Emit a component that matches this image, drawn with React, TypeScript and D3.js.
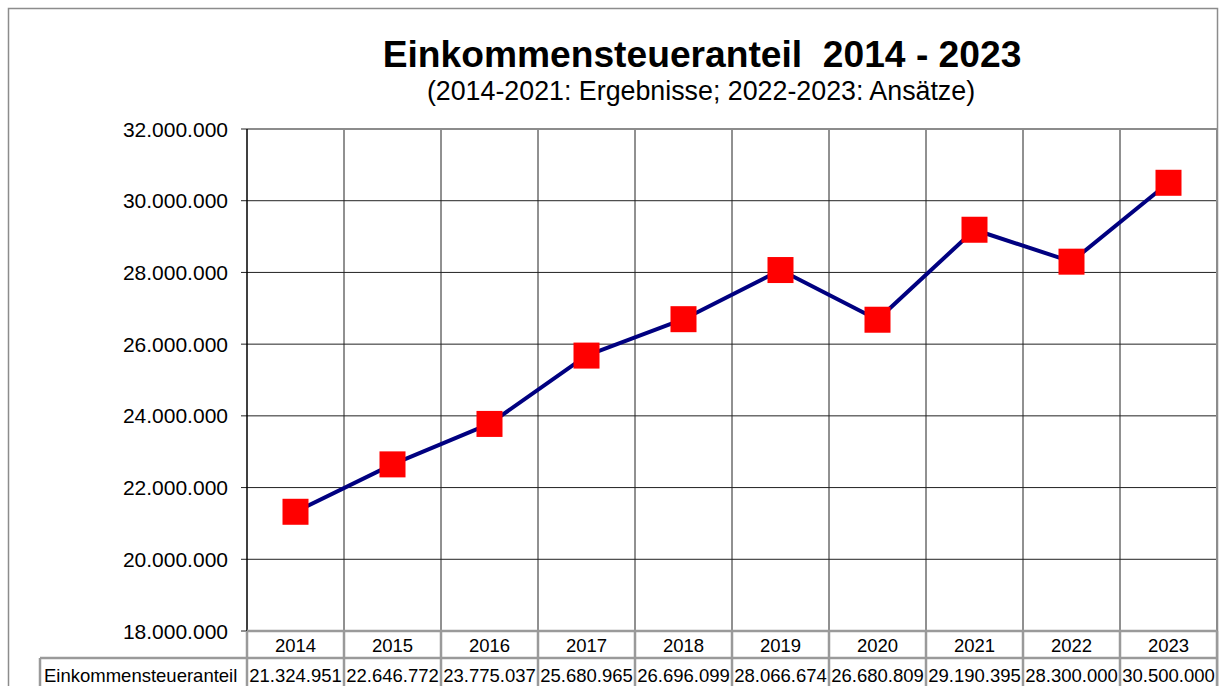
import React from 'react'
import * as d3 from 'd3'

const years = ['2014', '2015', '2016', '2017', '2018', '2019', '2020', '2021', '2022', '2023']
const werte = [21324951, 22646772, 23775037, 25680965, 26696099, 28066674, 26680809, 29190395, 28300000, 30500000]
const yTicks = [18000000, 20000000, 22000000, 24000000, 26000000, 28000000, 30000000, 32000000]
const reiheName = 'Einkommensteueranteil'

const W = 1222
const H = 686
const left = 247
const right = 1217
const top = 129
const bottom = 631
const font = 'Arial, "Liberation Sans", sans-serif'

// Zahlen im deutschen Format: 21.324.951
const de = d3.formatLocale({ decimal: ',', thousands: '.', grouping: [3], currency: ['', ' €'] })
const fmt = de.format(',d')

export default function App() {
  const x = d3.scaleBand().domain(years).range([left, right])
  const y = d3.scaleLinear().domain([18000000, 32000000]).range([bottom, top])
  const line = d3.line<number>()
    .x((d, i) => x(years[i])! + x.bandwidth() / 2)
    .y(d => y(d))
  const bounds = years.map(yr => x(yr)!).concat([right])
  const rowTop = 658
  const gray = '#9a9a9a'

  return (
    <svg width={W} height={H} style={{ position: 'absolute', left: 0, top: 0, background: '#fff' }} fontFamily={font}>
      {/* Rahmen */}
      <rect x={8.5} y={8.5} width={1209} height={700} fill="none" stroke="#8c8c8c" strokeWidth={1.5} />

      <text x={702} y={67} textAnchor="middle" fontSize={37.2} fontWeight="bold" style={{ whiteSpace: 'pre' }}>Einkommensteueranteil  2014 - 2023</text>
      <text x={701} y={100} textAnchor="middle" fontSize={26.8}>(2014-2021: Ergebnisse; 2022-2023: Ansätze)</text>

      {/* Gitter */}
      {yTicks.map(t => (
        <g key={t}>
          <line x1={left - 6} x2={right} y1={y(t)} y2={y(t)} stroke="#222" strokeWidth={1} />
          <text x={228} y={y(t) + 7.5} textAnchor="end" fontSize={21}>{fmt(t)}</text>
        </g>
      ))}
      {bounds.slice(1, -1).map(b => (
        <line key={b} x1={b} x2={b} y1={top} y2={bottom} stroke="#222" strokeWidth={1} />
      ))}
      <line x1={left} x2={right} y1={top} y2={top} stroke="#8c8c8c" strokeWidth={2} />
      <line x1={right} x2={right} y1={top} y2={bottom} stroke="#8c8c8c" strokeWidth={2} />
      <line x1={left} x2={left} y1={top} y2={bottom} stroke="#000" strokeWidth={1.5} />

      {/* Linie und Marker */}
      <path d={line(werte)!} fill="none" stroke="#000080" strokeWidth={4} strokeLinejoin="round" />
      {werte.map((v, i) => (
        <rect key={years[i]} x={x(years[i])! + x.bandwidth() / 2 - 13} y={y(v) - 13} width={26} height={26} fill="#ff0000" />
      ))}

      {/* Datentabelle */}
      <line x1={left} x2={right} y1={bottom} y2={bottom} stroke={gray} strokeWidth={2.5} />
      <line x1={40} x2={right} y1={rowTop} y2={rowTop} stroke={gray} strokeWidth={2.5} />
      <line x1={40} x2={40} y1={rowTop} y2={H} stroke={gray} strokeWidth={2.5} />
      {bounds.map(b => (
        <line key={'t' + b} x1={b} x2={b} y1={bottom} y2={H} stroke={gray} strokeWidth={2.5} />
      ))}
      {years.map((yr, i) => (
        <g key={'c' + yr}>
          <text x={x(yr)! + x.bandwidth() / 2} y={652} textAnchor="middle" fontSize={18.5}>{yr}</text>
          <text x={x(yr)! + x.bandwidth() / 2} y={682} textAnchor="middle" fontSize={18.5}>{fmt(werte[i])}</text>
        </g>
      ))}
      <text x={44} y={682} fontSize={18.5}>{reiheName}</text>
    </svg>
  )
}
